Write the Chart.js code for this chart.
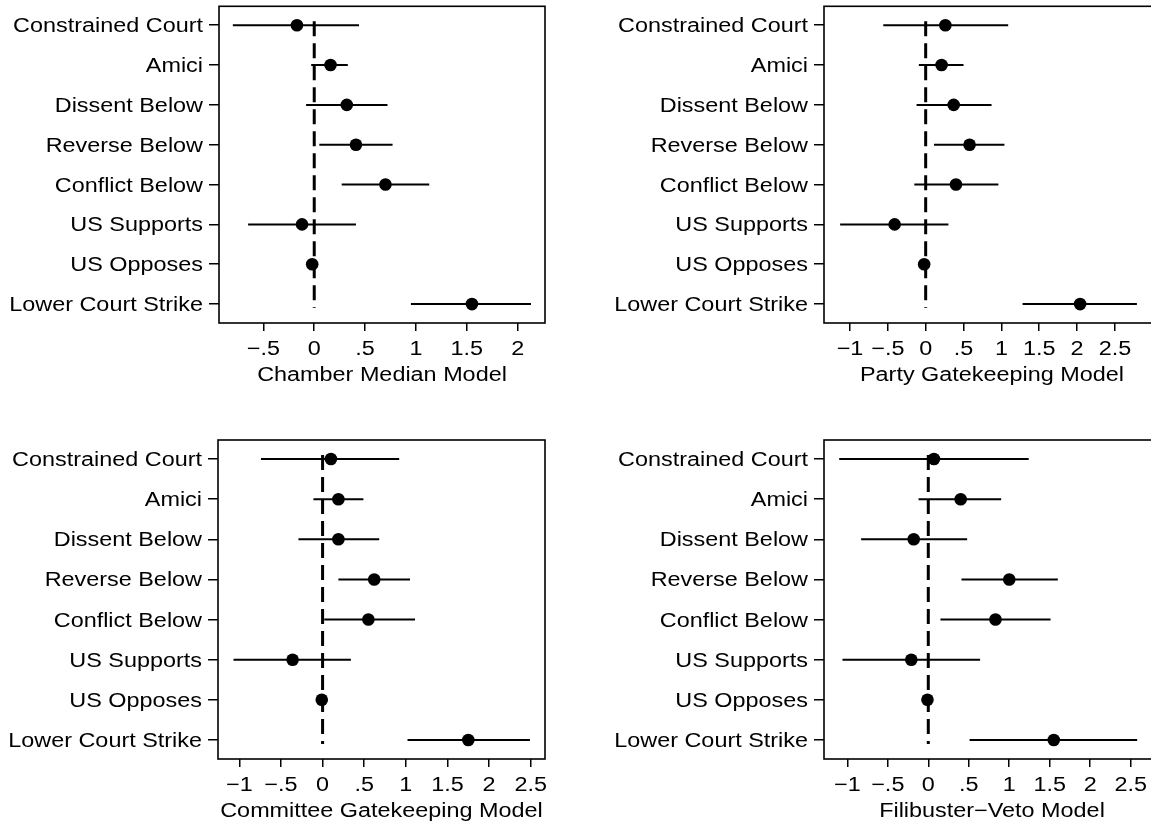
<!DOCTYPE html>
<html>
<head>
<meta charset="utf-8">
<script src="https://cdn.jsdelivr.net/npm/chart.js@4.4.1/dist/chart.umd.min.js"></script>
<style>
  html, body { margin: 0; padding: 0; background: #fff; overflow: hidden; }
  #wrap { position: relative; width: 1151px; height: 822px; overflow: hidden; background: #fff; }
  canvas { position: absolute; left: 0; top: 0; }
</style>
</head>
<body>
<div id="wrap">
  <canvas id="chamber-chart" width="1200" height="822"></canvas>
  <canvas id="party-chart" width="1200" height="822"></canvas>
  <canvas id="committee-chart" width="1200" height="822"></canvas>
  <canvas id="filibuster-chart" width="1200" height="822"></canvas>
</div>
<script>
const rowLabels = ['Constrained Court', 'Amici', 'Dissent Below', 'Reverse Below', 'Conflict Below', 'US Supports', 'US Opposes', 'Lower Court Strike']

// Chamber Median Model
const chamberCoef = [-0.17, 0.16, 0.32, 0.41, 0.70, -0.12, -0.02, 1.55]
const chamberLo = [-0.80, -0.03, -0.08, 0.05, 0.27, -0.65, -0.03, 0.95]
const chamberHi = [0.44, 0.33, 0.72, 0.77, 1.13, 0.41, 0.00, 2.13]
const chamberTicks = [-0.5, 0, 0.5, 1, 1.5, 2]

// Party Gatekeeping Model
const partyCoef = [0.26, 0.21, 0.37, 0.58, 0.40, -0.41, -0.02, 2.04]
const partyLo = [-0.56, -0.09, -0.12, 0.11, -0.15, -1.13, -0.03, 1.28]
const partyHi = [1.09, 0.50, 0.87, 1.04, 0.96, 0.30, 0.00, 2.79]
const partyTicks = [-1, -0.5, 0, 0.5, 1, 1.5, 2, 2.5]

// Committee Gatekeeping Model
const committeeCoef = [0.10, 0.19, 0.19, 0.62, 0.55, -0.36, -0.01, 1.75]
const committeeLo = [-0.74, -0.11, -0.29, 0.19, 0.02, -1.07, -0.02, 1.02]
const committeeHi = [0.92, 0.49, 0.68, 1.05, 1.11, 0.34, 0.00, 2.49]
const committeeTicks = [-1, -0.5, 0, 0.5, 1, 1.5, 2, 2.5]

// Filibuster-Veto Model
const filibusterCoef = [0.07, 0.40, -0.18, 1.00, 0.83, -0.21, -0.01, 1.55]
const filibusterLo = [-1.10, -0.12, -0.83, 0.41, 0.15, -1.06, -0.02, 0.51]
const filibusterHi = [1.24, 0.90, 0.48, 1.60, 1.51, 0.64, 0.00, 2.58]
const filibusterTicks = [-1, -0.5, 0, 0.5, 1, 1.5, 2, 2.5]

// reference line at zero, spans a bit past first and last row
const zeroX = 0
const zeroSpan = [0.9, 8.1]

const font = '20px "Liberation Sans", Arial, Helvetica, sans-serif'
const stretch = 1.17

function tickText(v) {
  if (v === 0) return '0'
  let s = String(Math.abs(v)).replace(/^0\./, '.')
  return (v < 0 ? '\u2212' : '') + s
}

function drawStretched(ctx, text, x, y, align) {
  ctx.save()
  ctx.translate(x, y)
  ctx.scale(stretch, 1)
  ctx.textAlign = align
  ctx.fillText(text, 0, 0)
  ctx.restore()
}

const panelText = {
  id: 'panelText',
  afterDraw(chart, args, opts) {
    const ctx = chart.ctx
    const area = chart.chartArea
    const xs = chart.scales.x
    const ys = chart.scales.y
    ctx.save()
    ctx.strokeStyle = '#000'
    ctx.lineWidth = 1.6
    ctx.strokeRect(area.left, area.top, area.right - area.left, area.bottom - area.top)
    ctx.fillStyle = '#000'
    ctx.font = font
    ctx.textBaseline = 'alphabetic'
    rowLabels.forEach((lab, i) => {
      drawStretched(ctx, lab, area.left - 16, ys.getPixelForValue(i + 1) + 7, 'right')
    })
    xs.ticks.forEach(t => {
      drawStretched(ctx, tickText(t.value), xs.getPixelForValue(t.value), area.bottom + 32, 'center')
    })
    drawStretched(ctx, opts.title, (area.left + area.right) / 2, area.bottom + 58, 'center')
    ctx.restore()
  }
}

function makeConfig(coef, lo, hi, ticks, xmin, xmax, pad, title) {
  const ciSets = coef.map((c, i) => ({
    data: [{x: lo[i], y: i + 1}, {x: hi[i], y: i + 1}],
    showLine: true,
    borderColor: '#000',
    borderWidth: 2,
    pointRadius: 0
  }))
  const dots = {
    data: coef.map((c, i) => ({x: c, y: i + 1})),
    showLine: false,
    pointRadius: 6.3,
    pointBackgroundColor: '#000',
    pointBorderWidth: 0
  }
  const zero = {
    data: [{x: zeroX, y: zeroSpan[0]}, {x: zeroX, y: zeroSpan[1]}],
    showLine: true,
    borderColor: '#000',
    borderWidth: 3,
    borderDash: [15, 7],
    pointRadius: 0
  }
  const gridOpts = len => ({
    drawOnChartArea: false,
    drawTicks: true,
    tickLength: len,
    color: '#000',
    lineWidth: 1.5
  })
  return {
    type: 'scatter',
    data: {datasets: [dots, ...ciSets, zero]},
    options: {
      responsive: false,
      animation: false,
      devicePixelRatio: 1,
      events: [],
      layout: {padding: pad},
      plugins: {
        legend: {display: false},
        tooltip: {enabled: false},
        panelText: {title: title}
      },
      scales: {
        x: {
          type: 'linear',
          min: xmin,
          max: xmax,
          afterBuildTicks: s => { s.ticks = ticks.map(v => ({value: v})) },
          afterFit: s => { s.height = 20 },
          ticks: {display: false},
          grid: gridOpts(8),
          border: {display: false}
        },
        y: {
          type: 'linear',
          reverse: true,
          min: 0.525,
          max: 8.475,
          afterBuildTicks: s => { s.ticks = rowLabels.map((_, i) => ({value: i + 1})) },
          afterFit: s => { s.width = 20 },
          ticks: {display: false},
          grid: gridOpts(10),
          border: {display: false}
        }
      }
    },
    plugins: [panelText]
  }
}

new Chart(document.getElementById('chamber-chart'),
  makeConfig(chamberCoef, chamberLo, chamberHi, chamberTicks, -0.936, 2.268,
    {left: 199, top: 5, right: 655, bottom: 479}, 'Chamber Median Model'))

new Chart(document.getElementById('party-chart'),
  makeConfig(partyCoef, partyLo, partyHi, partyTicks, -1.343, 3.095,
    {left: 804, top: 5, right: 40, bottom: 479}, 'Party Gatekeeping Model'))

new Chart(document.getElementById('committee-chart'),
  makeConfig(committeeCoef, committeeLo, committeeHi, committeeTicks, -1.256, 2.671,
    {left: 198, top: 440, right: 655, bottom: 43}, 'Committee Gatekeeping Model'))

new Chart(document.getElementById('filibuster-chart'),
  makeConfig(filibusterCoef, filibusterLo, filibusterHi, filibusterTicks, -1.288, 2.862,
    {left: 804, top: 440, right: 40, bottom: 43}, 'Filibuster\u2212Veto Model'))
</script>
</body>
</html>
